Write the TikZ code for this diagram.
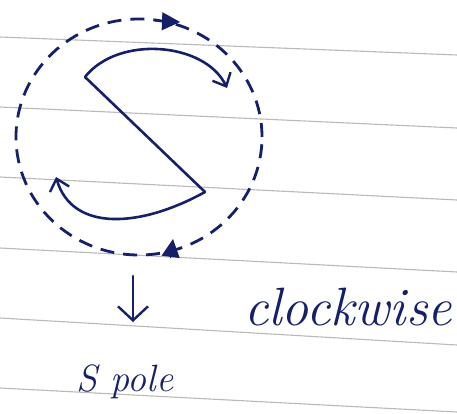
\documentclass[tikz,border=0pt]{standalone}
\usepackage{fontspec}
\usetikzlibrary{arrows.meta}
\definecolor{ink}{RGB}{22,32,105}
\begin{document}
\begin{tikzpicture}[x=1pt, y=-1pt,
      ruled/.style={gray!55, line width=1.1pt},
      orbit/.style={ink, line width=2.8pt, dash pattern=on 14pt off 9pt},
      stroke/.style={ink, line width=2.6pt, line cap=round, line join=round},
      barb/.style={-{Straight Barb[length=11pt, width=20pt, line width=2.4pt]}},
      head/.style={ink, -{Triangle[length=18pt, width=18pt]}},
      hand/.style={ink, inner sep=0pt},
    ]
    \useasboundingbox (0,0) rectangle (457,414);

    % notebook lines
    \foreach \ya/\yb in {37/55, 107/128, 177/200, 248/272, 318/345, 388/412}
      \draw[ruled] (0,\ya) -- (457,\yb);

    % dashed circle with its two arrowheads
    \draw[orbit] (139,137) ellipse [x radius=123pt, y radius=118pt];
    \draw[head, line width=1pt] (155,21) -- (180,22);
    \draw[head, line width=1pt] (170.5,258) -- (173,239);

    % the S
    \coordinate (sTop) at (85,77);
    \coordinate (sBot) at (205,192);
    \coordinate (sEndR) at (227,88);
    \coordinate (sEndL) at (56,177);
    \draw[stroke, barb] (sTop) .. controls (118,35) and (205,42) .. (sEndR);
    \draw[stroke] (sTop) -- (sBot);
    \draw[stroke, barb] (sBot) .. controls (140,228) and (72,232) .. (sEndL);

    % labels
    \coordinate (dnA) at (133,276);
    \coordinate (dnB) at (133,322);
    \draw[stroke, -{Straight Barb[length=14pt, width=30pt, line width=2.4pt]}] (dnA) -- (dnB);
    \node[hand, font=\fontsize{54}{58}\selectfont\itshape, anchor=base] (cw) at (348,325) {clockwise};
    \node[hand, font=\fontsize{38}{42}\selectfont\itshape, anchor=base west] (sp) at (76,391) {S pole};
  \end{tikzpicture}
\end{document}
